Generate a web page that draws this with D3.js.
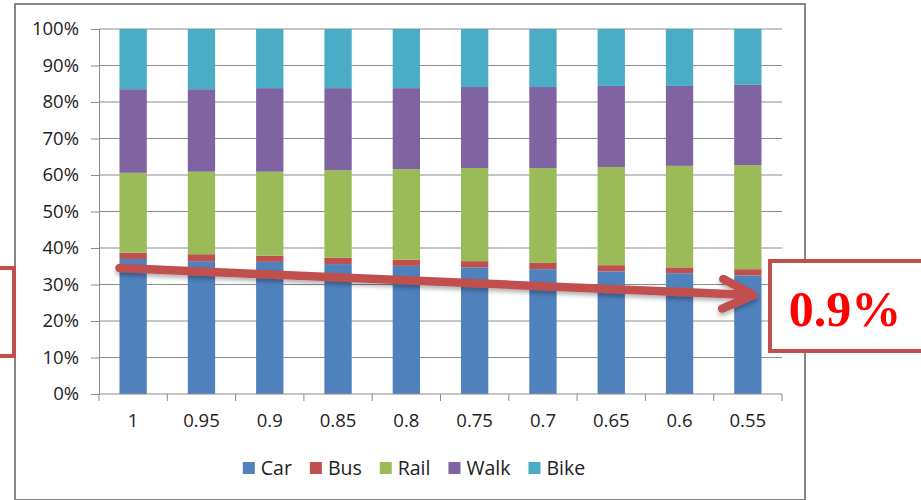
<!DOCTYPE html>
<html>
<head>
<meta charset="utf-8">
<script src="https://cdn.jsdelivr.net/npm/d3@7.9.0/dist/d3.min.js"></script>
<style>
  body { margin: 0; background: #fff; }
  svg { display: block; font-family: 'Open Sans', sans-serif; }
</style>
</head>
<body>
<div id="chart"></div>
<script>
// shares per scenario, in percent
const categories = ['1', '0.95', '0.9', '0.85', '0.8', '0.75', '0.7', '0.65', '0.6', '0.55'];
const car  = [37.0, 36.4, 36.2, 35.6, 35.1, 34.7, 34.2, 33.6, 33.1, 32.5];
const bus  = [1.7, 1.9, 1.7, 1.7, 1.7, 1.7, 1.7, 1.7, 1.6, 1.7];
const rail = [21.9, 22.6, 23.0, 24.0, 24.8, 25.5, 26.0, 26.9, 27.8, 28.5];
const walk = [22.9, 22.6, 22.9, 22.5, 22.2, 22.2, 22.2, 22.2, 21.9, 22.0];
const bike = [16.5, 16.5, 16.2, 16.2, 16.2, 15.9, 15.9, 15.6, 15.6, 15.3];
const modes = ['Car', 'Bus', 'Rail', 'Walk', 'Bike'];
const colors = ['#4f81bd', '#c0504d', '#9bbb59', '#8064a2', '#4bacc6'];
const yTicks = [0, 10, 20, 30, 40, 50, 60, 70, 80, 90, 100];
const calloutText = '0.9%';

const width = 921;
const height = 500;
const area = { left: 99, right: 782, top: 29, bottom: 394 };

const rows = categories.map((c, i) => ({
  cat: c, Car: car[i], Bus: bus[i], Rail: rail[i], Walk: walk[i], Bike: bike[i]
}));
const series = d3.stack().keys(modes)(rows);

const svg = d3.select('#chart').append('svg')
  .attr('width', width).attr('height', height);

const defs = svg.append('defs');
defs.append('filter').attr('id', 'shadow')
  .attr('x', '-10%').attr('y', '-50%').attr('width', '120%').attr('height', '300%')
  .append('feDropShadow')
  .attr('dx', 0).attr('dy', 3).attr('stdDeviation', 2)
  .attr('flood-color', '#000').attr('flood-opacity', 0.3);

// chart frame
svg.append('rect')
  .attr('x', 15).attr('y', 4).attr('width', 790).attr('height', 496)
  .attr('fill', '#fff').attr('stroke', '#868686').attr('stroke-width', 2);

const xScale = d3.scaleBand()
  .domain(categories)
  .range([area.left, area.right])
  .paddingInner(0.6)
  .paddingOuter(0.3);

const yScale = d3.scaleLinear().domain([0, 100]).range([area.bottom, area.top]);

// gridlines
svg.append('g')
  .attr('class', 'gridlines')
  .selectAll('line')
  .data(yTicks.filter((d) => d > 0))
  .join('line')
  .attr('x1', area.left).attr('x2', area.right)
  .attr('y1', (d) => yScale(d)).attr('y2', (d) => yScale(d))
  .attr('stroke', '#8c8c8c').attr('stroke-width', 1);

// y axis
const yAxis = d3.axisLeft(yScale)
  .tickValues(yTicks)
  .tickSize(8)
  .tickPadding(12)
  .tickFormat((d) => d + '%');
const gy = svg.append('g')
  .attr('transform', `translate(${area.left}, 0)`)
  .call(yAxis);
gy.select('.domain').attr('stroke', '#8c8c8c');
gy.selectAll('.tick line').attr('stroke', '#8c8c8c');
gy.selectAll('.tick text')
  .attr('font-size', 18.5).attr('fill', '#222').attr('font-family', "'Open Sans', sans-serif");

// bars
svg.append('g')
  .selectAll('g')
  .data(series)
  .join('g')
  .attr('fill', (d, i) => colors[i])
  .selectAll('rect')
  .data((d) => d)
  .join('rect')
  .attr('x', (d) => xScale(d.data.cat))
  .attr('y', (d) => yScale(d[1]))
  .attr('width', xScale.bandwidth())
  .attr('height', (d) => yScale(d[0]) - yScale(d[1]));

// x axis: ticks on category boundaries
const gx = svg.append('g').attr('transform', `translate(0, ${area.bottom})`);
gx.append('line')
  .attr('x1', area.left).attr('x2', area.right)
  .attr('stroke', '#8c8c8c');
const step = xScale.step();
gx.selectAll('line.tick')
  .data(d3.range(categories.length + 1))
  .join('line')
  .attr('class', 'tick')
  .attr('x1', (i) => area.left + i * step).attr('x2', (i) => area.left + i * step)
  .attr('y1', 0).attr('y2', 7)
  .attr('stroke', '#8c8c8c');
gx.selectAll('text')
  .data(categories)
  .join('text')
  .attr('x', (d) => xScale(d) + xScale.bandwidth() / 2)
  .attr('y', 33)
  .attr('text-anchor', 'middle')
  .attr('font-size', 18.5).attr('fill', '#222')
  .text((d) => d);

// legend
const legend = svg.append('g').attr('transform', 'translate(0, 468)');
const items = legend.selectAll('g').data(modes).join('g');
items.append('rect')
  .attr('y', -6).attr('width', 12).attr('height', 12)
  .attr('fill', (d, i) => colors[i]);
items.append('text')
  .attr('x', 18).attr('y', 7)
  .attr('font-size', 19.5).attr('fill', '#222')
  .text((d) => d);
const widths = [];
items.each(function () {
  widths.push(18 + this.querySelector('text').getComputedTextLength());
});
const gap = 18;
const total = d3.sum(widths) + gap * (widths.length - 1);
let lx = 414 - total / 2;
items.attr('transform', (d, i) => {
  const t = `translate(${lx}, 0)`;
  lx += widths[i] + gap;
  return t;
});

// annotation arrow
const x0 = xScale(categories[0]);
const x1 = xScale(categories[categories.length - 1]) + xScale.bandwidth() * 0.7;
const y0 = yScale(34.5);
const y1 = yScale(27.1);
const ang = Math.atan2(y1 - y0, x1 - x0);
const headLen = 34;
const headAng = 0.45;
const arrow = svg.append('g').attr('filter', 'url(#shadow)')
  .attr('stroke', '#c0504d').attr('stroke-width', 8.5)
  .attr('stroke-linecap', 'round').attr('stroke-linejoin', 'round').attr('fill', 'none');
arrow.append('line')
  .attr('x1', x0).attr('y1', y0).attr('x2', x1 - 2).attr('y2', y1);
arrow.append('path')
  .attr('d', d3.line()([
    [x1 - headLen * Math.cos(ang - headAng), y1 - headLen * Math.sin(ang - headAng)],
    [x1, y1],
    [x1 - headLen * Math.cos(ang + headAng), y1 - headLen * Math.sin(ang + headAng)]
  ]));

// callout boxes
svg.append('rect')
  .attr('x', -50).attr('y', 268).attr('width', 64).attr('height', 88)
  .attr('fill', 'none').attr('stroke', '#c0504d').attr('stroke-width', 4);

svg.append('rect')
  .attr('x', 770).attr('y', 261).attr('width', 200).attr('height', 90)
  .attr('fill', '#fff').attr('stroke', '#c0504d').attr('stroke-width', 4);
svg.append('text')
  .attr('x', 845).attr('y', 326)
  .attr('text-anchor', 'middle')
  .attr('font-family', "'Liberation Serif', 'Times New Roman', serif")
  .attr('font-weight', 'bold').attr('font-size', 50)
  .attr('fill', '#ff0000')
  .text(calloutText);
</script>
</body>
</html>
